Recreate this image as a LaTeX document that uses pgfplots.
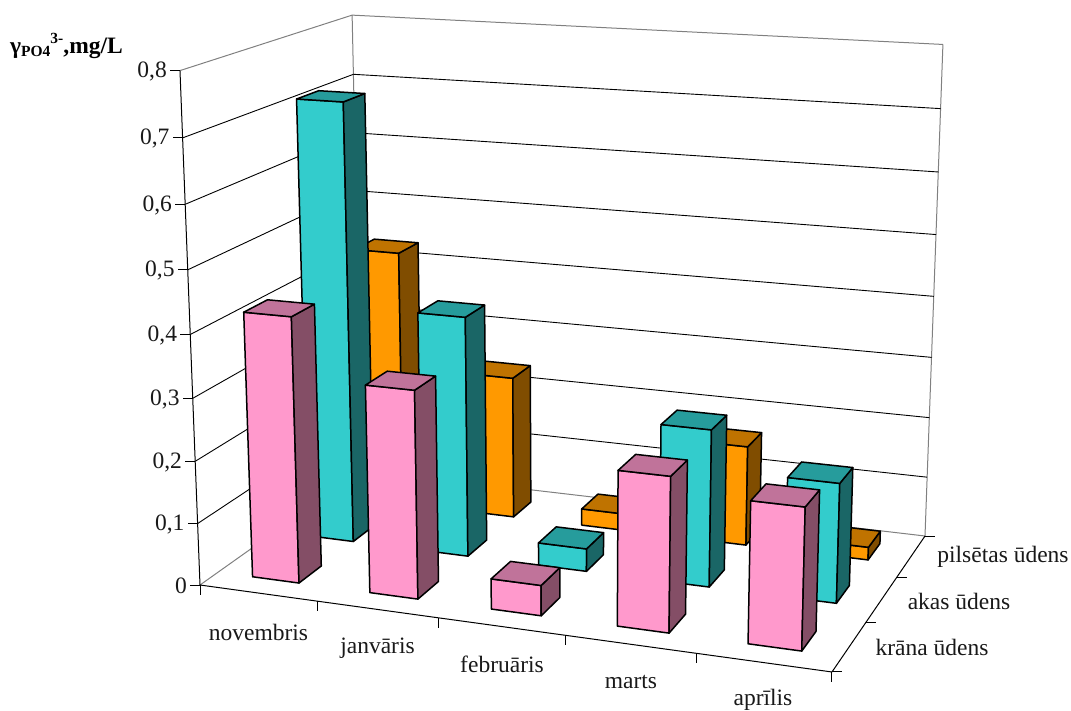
\documentclass[border=0pt]{standalone}
\usepackage{pgfplots}
\pgfplotsset{compat=1.18}
\usepackage{fontspec}
\setmainfont{Liberation Serif}

% Face colours of the three series
\definecolor{pinkfront}{HTML}{FF99CC}
\definecolor{pinkside}{HTML}{844E66}
\definecolor{pinktop}{HTML}{C0739A}
\definecolor{tealfront}{HTML}{33CCCC}
\definecolor{tealside}{HTML}{1A6666}
\definecolor{tealtop}{HTML}{269C9C}
\definecolor{orangefront}{HTML}{FF9900}
\definecolor{orangeside}{HTML}{804D00}
\definecolor{orangetop}{HTML}{BF7300}
\definecolor{wallgrey}{HTML}{808080}

% Perspective of the chart box: u along the months (0..1),
% v along the water types (0..1), w the concentration in mg/L.
\newcommand{\proj}[5]{%
  \pgfmathsetmacro{\myden}{1-0.08789*(#1)+0.13708*(#2)-0.0637*(#3)}%
  \pgfmathsetmacro{#4}{(558.88*(#1)+211.62*(#2)+200-36.47*(#3))/\myden}%
  \pgfmathsetmacro{#5}{(27.94*(#1)-50.57*(#2)+585-647.5*(#3))/\myden}%
}

% Straight line between two points of the box
\newcommand{\boxline}[7]{%
  \proj{#1}{#2}{#3}{\Ax}{\Ay}%
  \proj{#4}{#5}{#6}{\Bx}{\By}%
  \addplot[#7] coordinates {(\Ax,\Ay) (\Bx,\By)};%
}

% Tick mark: from a point of the box by an offset in drawing units
\newcommand{\boxtick}[5]{%
  \proj{#1}{#2}{#3}{\Ax}{\Ay}%
  \pgfmathsetmacro{\Bx}{\Ax+(#4)}%
  \pgfmathsetmacro{\By}{\Ay+(#5)}%
  \addplot[black,line width=1pt] coordinates {(\Ax,\Ay) (\Bx,\By)};%
}

% Value tick with its label; node positions are fixed here, as nodes are drawn late
\newcommand{\valuetick}[2]{%
  \boxtick{0}{0}{#1}{-10}{0}%
  \pgfmathsetmacro{\Lx}{\Bx-3}%
  \pgfmathsetmacro{\Ly}{\By+1}%
  \edef\placelabel{\noexpand\node[lab,anchor=east,inner sep=0pt] at (axis cs:\Lx,\Ly) {\unexpanded{#2}};}%
  \placelabel
}

% Bar: month index, series row, value, colour prefix
\newcommand{\drawbar}[4]{%
  \pgfmathsetmacro{\uo}{0.2*#1+0.06}%
  \pgfmathsetmacro{\ui}{0.2*#1+0.14}%
  \pgfmathsetmacro{\vo}{#2/3+0.1}%
  \pgfmathsetmacro{\vi}{#2/3+0.2333}%
  \proj{\uo}{\vo}{0}{\Ax}{\Ay}%
  \proj{\ui}{\vo}{0}{\Bx}{\By}%
  \proj{\ui}{\vo}{#3}{\Cx}{\Cy}%
  \proj{\uo}{\vo}{#3}{\Dx}{\Dy}%
  \proj{\ui}{\vi}{0}{\Ex}{\Ey}%
  \proj{\ui}{\vi}{#3}{\Fx}{\Fy}%
  \proj{\uo}{\vi}{#3}{\Gx}{\Gy}%
  \addplot[barface,fill=#4front] coordinates {(\Ax,\Ay) (\Bx,\By) (\Cx,\Cy) (\Dx,\Dy)} --cycle;%
  \addplot[barface,fill=#4side] coordinates {(\Bx,\By) (\Ex,\Ey) (\Fx,\Fy) (\Cx,\Cy)} --cycle;%
  \addplot[barface,fill=#4top] coordinates {(\Dx,\Dy) (\Cx,\Cy) (\Fx,\Fy) (\Gx,\Gy)} --cycle;%
}

\pgfplotsset{barface/.style={draw=black,line width=1.5pt,line join=round}}
\tikzset{lab/.style={font=\fontsize{23.5}{25}\selectfont,text=black!90}}

\begin{document}
\begin{tikzpicture}
\useasboundingbox (0,0) rectangle (1071pt,710pt);
\begin{axis}[
  at={(0,0)},anchor=south west,
  scale only axis,width=1071pt,height=710pt,
  xmin=0,xmax=1071,ymin=0,ymax=710,y dir=reverse,
  hide axis,clip=false,
]
% Walls and gridlines
\boxline{0}{0}{0.8}{0}{1}{0.8}{wallgrey,line width=1pt}
\boxline{0}{1}{0.8}{1}{1}{0.8}{wallgrey,line width=1pt}
\boxline{0}{1}{0}{0}{1}{0.8}{wallgrey,line width=1pt}
\boxline{1}{1}{0}{1}{1}{0.8}{wallgrey,line width=1pt}
\boxline{0}{0}{0}{0}{1}{0}{wallgrey,line width=1pt}
\boxline{0}{1}{0}{1}{1}{0}{wallgrey,line width=1pt}
\pgfplotsinvokeforeach{0.1,0.2,0.3,0.4,0.5,0.6,0.7}{%
  \boxline{0}{0}{#1}{0}{1}{#1}{black,line width=0.9pt}
  \boxline{0}{1}{#1}{1}{1}{#1}{black,line width=0.9pt}
}
% Box edges in front
\boxline{0}{0}{0}{0}{0}{0.8}{black,line width=1pt}
\boxline{0}{0}{0}{1}{0}{0}{black,line width=1pt}
\boxline{1}{0}{0}{1}{1}{0}{black,line width=1pt}
% Value axis
\valuetick{0}{0}
\valuetick{0.1}{0,1}
\valuetick{0.2}{0,2}
\valuetick{0.3}{0,3}
\valuetick{0.4}{0,4}
\valuetick{0.5}{0,5}
\valuetick{0.6}{0,6}
\valuetick{0.7}{0,7}
\valuetick{0.8}{0,8}
% Month and water type ticks
\pgfplotsinvokeforeach{0,0.2,0.4,0.6,0.8,1}{\boxtick{#1}{0}{0}{0}{10}}
\pgfplotsinvokeforeach{0,0.3333,0.6667,1}{\boxtick{1}{#1}{0}{10}{0}}

% Bars, back row first: pilsētas ūdens
\drawbar{0}{2}{0.433}{orange}
\drawbar{1}{2}{0.239}{orange}
\drawbar{2}{2}{0.028}{orange}
\drawbar{3}{2}{0.165}{orange}
\drawbar{4}{2}{0.021}{orange}
% akas ūdens
\drawbar{0}{1}{0.718}{teal}
\drawbar{1}{1}{0.392}{teal}
\drawbar{2}{1}{0.037}{teal}
\drawbar{3}{1}{0.252}{teal}
\drawbar{4}{1}{0.190}{teal}
% krāna ūdens
\drawbar{0}{0}{0.425}{pink}
\drawbar{1}{0}{0.330}{pink}
\drawbar{2}{0}{0.048}{pink}
\drawbar{3}{0}{0.241}{pink}
\drawbar{4}{0}{0.218}{pink}

% Month names
\node[lab] at (axis cs:258.5,632) {novembris};
\node[lab] at (axis cs:377.5,648) {janvāris};
\node[lab] at (axis cs:502,664) {februāris};
\node[lab] at (axis cs:631,682) {marts};
\node[lab] at (axis cs:763,700) {aprīlis};
% Water types
\node[lab] at (axis cs:1003,557) {pilsētas ūdens};
\node[lab] at (axis cs:959,601) {akas ūdens};
\node[lab] at (axis cs:932,647) {krāna ūdens};
% Quantity on the value axis
\node[anchor=west,inner sep=0pt,font=\bfseries\fontsize{23.5}{25}\selectfont] at (axis cs:10,46)
  {γ\raisebox{-3pt}{\fontsize{15.5}{15.5}\selectfont PO4}\raisebox{10pt}{\fontsize{15.5}{15.5}\selectfont 3-},mg/L};
\end{axis}
\end{tikzpicture}
\end{document}
